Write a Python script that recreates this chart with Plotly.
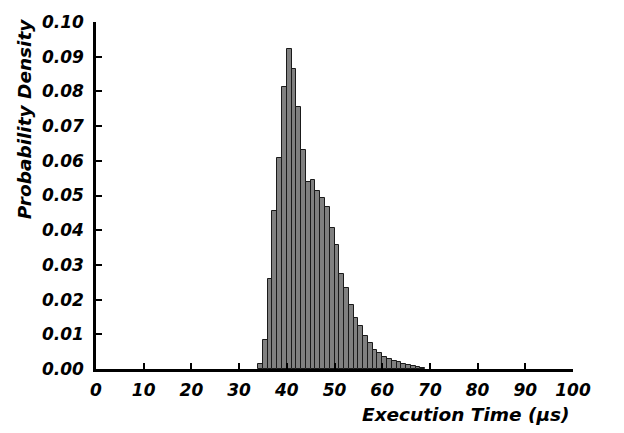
import plotly.graph_objects as go

bin_starts = list(range(34, 69))
density = [0.0014, 0.0083, 0.0258, 0.0456, 0.0609, 0.0812, 0.0922, 0.0866, 0.0756, 0.0631,
           0.0540, 0.0544, 0.0512, 0.0492, 0.0468, 0.0406, 0.0356, 0.0273, 0.0234, 0.0185,
           0.0146, 0.0124, 0.0095, 0.0075, 0.0055, 0.0047, 0.0036, 0.0028, 0.0022, 0.0019,
           0.0013, 0.0012, 0.0009, 0.0006, 0.0003]
bin_width = 1.0
x_ticks = list(range(0, 101, 10))
y_ticks = [i / 100 for i in range(0, 11)]

fig = go.Figure()
fig.add_trace(go.Bar(
    x=[b + bin_width / 2 for b in bin_starts],
    y=density,
    width=bin_width,
    marker=dict(color="#808080", line=dict(color="#1a1a1a", width=1)),
))

tick_font = dict(family="DejaVu Sans", size=17, color="black", weight="bold", style="italic")
title_font = dict(family="DejaVu Sans", size=18.5, color="black", weight="bold", style="italic")

fig.update_layout(
    width=624, height=433,
    margin=dict(l=96, r=51, t=13, b=64),
    plot_bgcolor="white", paper_bgcolor="white",
    showlegend=False,
    bargap=0,
    xaxis=dict(range=[0, 100], tickvals=x_ticks, ticks="inside", ticklen=6, tickwidth=2,
               tickcolor="black", showline=True, linecolor="black", linewidth=2.5,
               showgrid=False, zeroline=False, tickfont=tick_font, ticklabelstandoff=4),
    yaxis=dict(range=[0, 0.1], tickvals=y_ticks, tickformat=".2f", ticks="inside", ticklen=6,
               tickwidth=2, tickcolor="black", showline=True, linecolor="black", linewidth=2.5,
               showgrid=False, zeroline=False, tickfont=tick_font, ticklabelstandoff=6),
    annotations=[
        dict(text="Probability Density", xref="paper", yref="paper", x=-0.151, y=0.72,
             textangle=-90, showarrow=False, font=title_font, xanchor="center", yanchor="middle"),
        dict(text="Execution Time (µs)", xref="paper", yref="paper", x=0.775, y=-0.132,
             showarrow=False, font=title_font, xanchor="center", yanchor="middle"),
    ],
)

fig.write_html("out.html")
